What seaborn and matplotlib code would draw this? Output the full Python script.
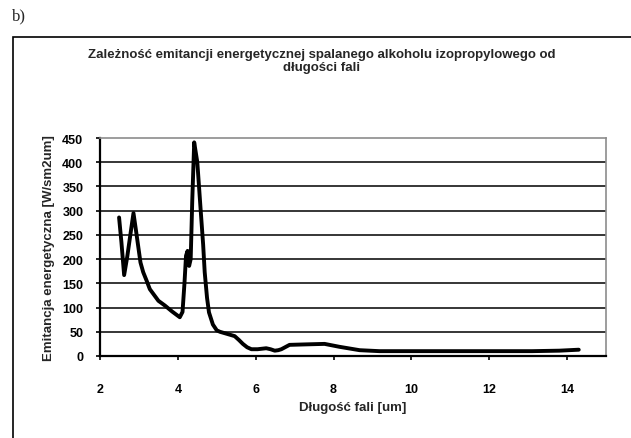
import numpy as np
import pandas as pd
import matplotlib
matplotlib.use("Agg")
import matplotlib.pyplot as plt
from matplotlib.patches import Rectangle
import seaborn as sns

# dane
dlugosc_fali = [2.49, 2.55, 2.62, 2.70, 2.79, 2.86, 2.93, 3.04, 3.11, 3.20,
                3.28, 3.50, 3.67, 3.85, 4.05, 4.12, 4.17, 4.21, 4.25, 4.29,
                4.33, 4.37, 4.42, 4.50, 4.59, 4.65, 4.69, 4.75, 4.80, 4.90,
                5.00, 5.08, 5.25, 5.46, 5.57, 5.67, 5.78, 5.89, 6.05, 6.27,
                6.38, 6.49, 6.58, 6.66, 6.87, 7.30, 7.77, 8.15, 8.67, 9.18,
                10.54, 11.50, 12.30, 13.10, 13.80, 14.30]
emitancja = [286, 235, 167, 205, 256, 295, 256, 193, 173, 155,
             138, 114, 104, 92, 80, 91, 150, 207, 217, 186,
             200, 320, 441, 400, 297, 230, 173, 120, 90, 65,
             53, 50, 46, 41, 33, 25, 18, 14, 14, 16,
             14, 11, 12, 14, 23, 24, 25, 19, 12, 10,
             10, 10, 10, 10, 11, 13]

x_ticks = [2, 4, 6, 8, 10, 12, 14]
y_ticks = [0, 50, 100, 150, 200, 250, 300, 350, 400, 450]

df = pd.DataFrame({"x": dlugosc_fali, "y": emitancja})

sns.set_style("white")
plt.rcParams['font.family'] = ['Liberation Sans', 'DejaVu Sans']

fig = plt.figure(figsize=(6.31, 4.39), dpi=100)
ax = fig.add_axes([100 / 631, 82 / 439, 506 / 631, 218 / 439])

# linie siatki (bez górnej - tam jest szara ramka)
for v in y_ticks[:-1]:
    ax.axhline(v, color="black", lw=1.1, zorder=1)

sns.lineplot(data=df, x="x", y="y", sort=False, color="black", lw=2.8,
             ax=ax, zorder=3)

ax.set_xlim(2, 15)
ax.set_ylim(0, 450)
ax.set_xticks(x_ticks)
ax.set_yticks(y_ticks)
ax.set_xticklabels([str(t) for t in x_ticks], fontweight="bold", fontsize=9)
ax.set_yticklabels([str(t) for t in y_ticks], fontweight="bold", fontsize=9)
ax.tick_params(axis="x", direction="out", length=3, width=1.2, pad=16.5, colors="black")
ax.tick_params(axis="y", direction="out", length=3, width=1.2, pad=9, colors="black")
ax.tick_params(bottom=True, left=True)

for s in ["left", "bottom"]:
    ax.spines[s].set_color("black")
    ax.spines[s].set_linewidth(1.6)
for s in ["top", "right"]:
    ax.spines[s].set_color("#8c8c8c")
    ax.spines[s].set_linewidth(1.2)

ax.set_xlabel("Długość fali [um]", fontweight="bold", fontsize=9.5, labelpad=4)
ax.set_ylabel("Emitancja energetyczna [W/sm2um]", fontweight="bold", fontsize=9.5,
              labelpad=5)

fig.text(322 / 631, 1 - 49 / 439,
         "Zależność emitancji energetycznej spalanego alkoholu izopropylowego od\n"
         "długości fali",
         ha="center", va="top", fontweight="bold", fontsize=9.5, linespacing=1.1)

fig.text(12 / 631, 1 - 16 / 439, "b)", ha="left", va="center",
         family=["Liberation Serif", "DejaVu Serif"], fontsize=12)

fig.patches.append(Rectangle((13 / 631, -0.1), 1.2, 1.1 - 38 / 439,
                             transform=fig.transFigure, fill=False,
                             edgecolor="black", lw=1.2))

fig.savefig("out.png", dpi=100)
